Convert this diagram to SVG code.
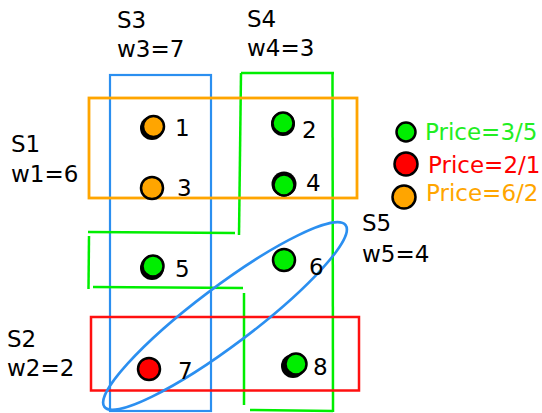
<svg xmlns="http://www.w3.org/2000/svg" width="542" height="413" viewBox="0 0 542 413">
<style>
text{font-family:"DejaVu Sans","Liberation Sans",sans-serif;font-size:23px;fill:#000}
.pt{stroke:#000;stroke-width:2.5}
.g{fill:#00ee00}.r{fill:#ff0000}.o{fill:#ffa500}
.sh{fill:#000}
.gl{fill:none;stroke:#00ee00;stroke-width:2.5}
</style>
<rect width="542" height="413" fill="#fff"/>
<g id="sets">
<g id="S3"><rect x="110" y="75" width="101" height="336" fill="none" stroke="#2b8ff0" stroke-width="2.2"/></g>
<g id="S4">
<polyline class="gl" points="241,73 334,73"/>
<polyline class="gl" points="332.5,73 333,412"/>
<polyline class="gl" points="241,73 239,235"/>
<polyline class="gl" points="88,232 235,233"/>
<polyline class="gl" points="89,236 88.5,289"/>
<polyline class="gl" points="93,287 243,288"/>
<polyline class="gl" points="244,293 244,405"/>
<polyline class="gl" points="250,410 333,411"/>
</g>
<g id="S1"><rect x="89" y="98" width="268" height="100" fill="none" stroke="#ffa500" stroke-width="2.8"/></g>
<g id="S2"><rect x="91" y="317" width="268" height="73.5" fill="none" stroke="#ff1010" stroke-width="2.5"/></g>
<g id="S5"><ellipse cx="225" cy="316" rx="151" ry="29" transform="rotate(-37 225 316)" fill="none" stroke="#2b8ff0" stroke-width="2.6"/></g>
</g>
<g id="points">
<g id="p1"><circle class="sh" cx="152" cy="128" r="12"/><circle class="pt o" cx="153.5" cy="126.5" r="10.5"/><text x="175" y="136">1</text></g>
<g id="p2"><circle class="sh" cx="283" cy="124" r="12"/><circle class="pt g" cx="283" cy="123" r="10.5"/><text x="302" y="138">2</text></g>
<g id="p3"><circle class="pt o" cx="152" cy="188" r="11"/><text x="177" y="196">3</text></g>
<g id="p4"><circle class="sh" cx="284" cy="184" r="12.5"/><circle class="pt g" cx="284" cy="185" r="10.5"/><text x="306" y="191">4</text></g>
<g id="p5"><circle class="sh" cx="152" cy="268" r="12"/><circle class="pt g" cx="153" cy="266" r="10.5"/><text x="175" y="277">5</text></g>
<g id="p6"><circle class="pt g" cx="284" cy="260" r="11"/><text x="309" y="275">6</text></g>
<g id="p7"><circle class="pt r" cx="149" cy="369" r="11"/><text x="178" y="379">7</text></g>
<g id="p8"><circle class="sh" cx="293" cy="366" r="12"/><circle class="pt g" cx="296" cy="364" r="10.5"/><text x="313" y="375">8</text></g>
</g>
<g id="labels">
<text x="117" y="28">S3</text><text x="117" y="57">w3=7</text>
<text x="247" y="27">S4</text><text x="247" y="56">w4=3</text>
<text x="11" y="152">S1</text><text x="11" y="182">w1=6</text>
<text x="7" y="347">S2</text><text x="7" y="376">w2=2</text>
<text x="362" y="231">S5</text><text x="362" y="262">w5=4</text>
</g>
<g id="legend">
<g id="l1"><circle class="pt g" cx="406" cy="132" r="9.5"/><text x="425" y="140" style="fill:#22ee22">Price=3/5</text></g>
<g id="l2"><circle class="pt r" cx="406" cy="164" r="11.5"/><text x="428" y="173" style="fill:#ff0000">Price=2/1</text></g>
<g id="l3"><circle class="pt o" cx="404" cy="197" r="11.5"/><text x="426" y="201" style="fill:#ffa500">Price=6/2</text></g>
</g>
</svg>
